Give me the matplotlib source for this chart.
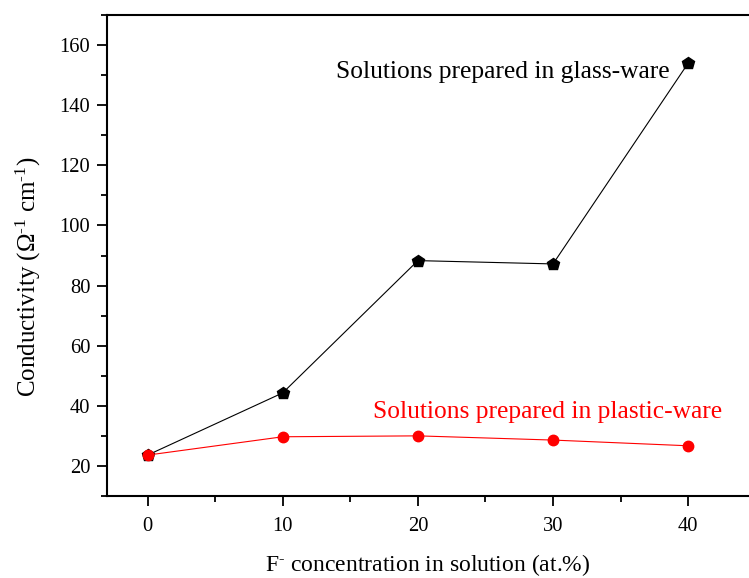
import matplotlib
matplotlib.use("Agg")
import matplotlib.pyplot as plt
from matplotlib.ticker import MultipleLocator

plt.rcParams['font.family'] = ['Liberation Serif', 'DejaVu Serif']
plt.rcParams['mathtext.fontset'] = 'custom'
plt.rcParams['mathtext.rm'] = 'Liberation Serif'
plt.rcParams['mathtext.it'] = 'Liberation Serif:italic'

# data
conc = [0, 10, 20, 30, 40]
glass = [23.6, 44.3, 88.3, 87.2, 154.0]
plastic = [23.6, 29.7, 30.0, 28.6, 26.7]

fig = plt.figure(figsize=(7.49, 5.78), dpi=100)
ax = fig.add_axes([0.1429, 0.1419, 0.8571, 0.8321])

ax.plot(conc, glass, color='black', lw=0.8, marker='p', ms=9, mfc='black', mec='black')
ax.plot(conc, plastic, color='red', lw=0.8, marker='o', ms=7.5, mfc='red', mec='red')

ax.set_xlim(-3, 44.5)
ax.set_ylim(10, 170)
ax.xaxis.set_minor_locator(MultipleLocator(5))
ax.yaxis.set_minor_locator(MultipleLocator(10))
ax.set_xticks([0, 10, 20, 30, 40])
ax.set_yticks([20, 40, 60, 80, 100, 120, 140, 160])

ax.tick_params(which='major', direction='out', length=7, width=1.3, labelsize=14.8, pad=5)
ax.tick_params(which='minor', direction='out', length=4, width=1.3)
ax.tick_params(axis='x', which='major', pad=8)
for s in ['left', 'bottom', 'top']:
    ax.spines[s].set_linewidth(1.5)
ax.spines['right'].set_visible(False)

ax.set_xlabel(r'F$^{\text{-}}$ concentration in solution (at.%)', fontsize=17, labelpad=12)
ax.set_ylabel(r'Conductivity ($\Omega^{\text{-1}}\ $cm$^{\text{-1}}$)', fontsize=18)
ax.yaxis.set_label_coords(-0.099, 0.455)

ax.text(26.3, 151, 'Solutions prepared in glass-ware', fontsize=18.4, color='black',
        ha='center', va='center')
ax.text(29.6, 38, 'Solutions prepared in plastic-ware', fontsize=18.4, color='red',
        ha='center', va='center')

fig.savefig('out.png', dpi=100)
